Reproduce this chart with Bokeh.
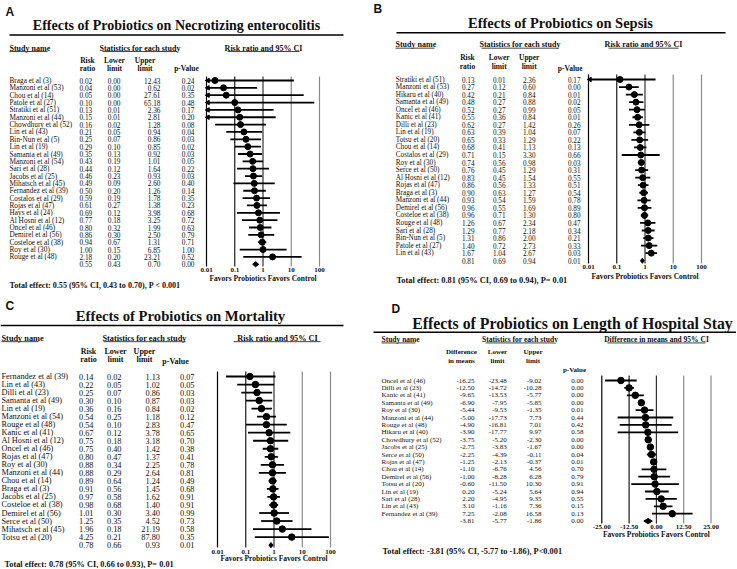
import numpy as np
from bokeh.plotting import figure
from bokeh.models import Range1d, LogScale, LinearScale
from bokeh.layouts import column, row
from bokeh.core.properties import value
from bokeh.embed import file_html
from bokeh.resources import INLINE

SERIF = "Liberation Serif"
SANS = "Liberation Sans"
INK = "#111111"

# ---------------- data ----------------
rr_ticks = [0.01, 0.1, 1, 10, 100]
rr_tick_labels = ["0.01", "0.1", "1", "10", "100"]
md_ticks = [-25, -12.5, 0, 12.5, 25]
md_tick_labels = ["-25.00", "-12.50", "0.00", "12.50", "25.00"]

nec_studies = ["Braga et al (3)", "Manzoni et al (53)", "Chou et al (14)", "Patole et al (27)",
               "Stratiki et al (51)", "Manzoni et al (44)", "Chowdhury et al (52)", "Lin et al (43)",
               "Bin-Nun et al (5)", "Lin et al (19)", "Samanta et al (49)", "Manzoni et al (54)",
               "Sari et al (28)", "Jacobs et al (25)", "Mihatsch et al (45)", "Fernandez et al (39)",
               "Costalos et al (29)", "Rojas et al (47)", "Hays et al (24)", "Al Hosni et al (12)",
               "Oncel et al (46)", "Demirel et al (56)", "Costeloe et al (38)", "Roy et al (30)",
               "Rouge et al (48)"]
nec_rr = [0.02, 0.04, 0.05, 0.10, 0.13, 0.15, 0.16, 0.21, 0.25, 0.29, 0.35, 0.43, 0.44, 0.46,
          0.49, 0.50, 0.59, 0.61, 0.69, 0.77, 0.80, 0.86, 0.94, 1.00, 2.18]
nec_lo = [0.00, 0.00, 0.00, 0.00, 0.01, 0.01, 0.02, 0.05, 0.07, 0.10, 0.13, 0.19, 0.12, 0.23,
          0.09, 0.20, 0.19, 0.27, 0.12, 0.18, 0.32, 0.30, 0.67, 0.15, 0.20]
nec_hi = [12.43, 0.62, 27.61, 65.18, 2.36, 2.81, 1.28, 0.94, 0.86, 0.85, 0.92, 1.01, 1.64, 0.93,
          2.60, 1.26, 1.78, 1.38, 3.98, 3.25, 1.99, 2.50, 1.31, 6.85, 23.21]
nec_p = [0.24, 0.02, 0.35, 0.48, 0.17, 0.20, 0.08, 0.04, 0.03, 0.02, 0.03, 0.05, 0.22, 0.03,
         0.40, 0.14, 0.35, 0.23, 0.68, 0.72, 0.63, 0.79, 0.71, 1.00, 0.52]
nec_summary = [0.55, 0.43, 0.70, 0.00]
nec_total = "Total effect: 0.55 (95% CI, 0.43 to 0.70), P < 0.001"

sep_studies = ["Stratiki et al (51)", "Manzoni et al (53)", "Hikaru et al (40)", "Samanta et al (49)",
               "Oncel et al (46)", "Kanic et al (41)", "Dilli et al (23)", "Lin et al (19)",
               "Totsu et al (20)", "Chou et al (14)", "Costalos et al (29)", "Roy et al (30)",
               "Serce et al (50)", "Al Hosni et al (12)", "Rojas et al (47)", "Braga et al (3)",
               "Manzoni et al (44)", "Demirel et al (56)", "Costeloe et al (38)", "Rouge et al (48)",
               "Sari et al (28)", "Bin-Nun et al (5)", "Patole et al (27)", "Lin et al (43)"]
sep_rr = [0.13, 0.27, 0.42, 0.48, 0.52, 0.55, 0.62, 0.63, 0.65, 0.68, 0.71, 0.74, 0.76, 0.83,
          0.86, 0.90, 0.93, 0.96, 0.96, 1.26, 1.29, 1.31, 1.40, 1.67]
sep_lo = [0.01, 0.12, 0.21, 0.27, 0.27, 0.36, 0.27, 0.39, 0.33, 0.41, 0.15, 0.56, 0.45, 0.45,
          0.56, 0.63, 0.54, 0.55, 0.71, 0.67, 0.77, 0.86, 0.72, 1.04]
sep_hi = [2.36, 0.60, 0.84, 0.88, 0.99, 0.84, 1.42, 1.04, 1.29, 1.13, 3.30, 0.98, 1.29, 1.54,
          1.33, 1.27, 1.59, 1.69, 1.30, 2.34, 2.18, 2.00, 2.73, 2.67]
sep_p = [0.17, 0.00, 0.01, 0.02, 0.05, 0.01, 0.26, 0.07, 0.22, 0.13, 0.66, 0.03, 0.31, 0.55,
         0.51, 0.54, 0.78, 0.89, 0.80, 0.47, 0.34, 0.21, 0.33, 0.03]
sep_summary = [0.81, 0.69, 0.94, 0.01]
sep_total = "Total effect: 0.81 (95% CI, 0.69 to 0.94), P= 0.01"

mor_studies = ["Fernandez et al (39)", "Lin et al (43)", "Dilli et al (23)", "Samanta et al (49)",
               "Lin et al (19)", "Manzoni et al (54)", "Rouge et al (48)", "Kanic et al (41)",
               "Al Hosni et al (12)", "Oncel et al (46)", "Rojas et al (47)", "Roy et al (30)",
               "Manzoni et al (44)", "Chou et al (14)", "Braga et al (3)", "Jacobs et al (25)",
               "Costeloe et al (38)", "Demirel et al (56)", "Serce et al (50)", "Mihatsch et al (45)",
               "Totsu et al (20)"]
mor_rr = [0.14, 0.22, 0.25, 0.30, 0.36, 0.54, 0.54, 0.67, 0.75, 0.75, 0.80, 0.88, 0.88, 0.89,
          0.91, 0.97, 0.98, 1.01, 1.25, 1.96, 4.25]
mor_lo = [0.02, 0.05, 0.07, 0.10, 0.16, 0.25, 0.10, 0.12, 0.18, 0.40, 0.47, 0.34, 0.29, 0.64,
          0.56, 0.58, 0.68, 0.30, 0.35, 0.18, 0.21]
mor_hi = [1.13, 1.02, 0.86, 0.87, 0.84, 1.18, 2.83, 3.78, 3.18, 1.42, 1.37, 2.25, 2.64, 1.24,
          1.45, 1.62, 1.40, 3.40, 4.52, 21.19, 87.80]
mor_p = [0.07, 0.05, 0.03, 0.03, 0.02, 0.12, 0.47, 0.65, 0.70, 0.38, 0.41, 0.78, 0.81, 0.49,
         0.68, 0.91, 0.91, 0.99, 0.73, 0.58, 0.35]
mor_summary = [0.78, 0.66, 0.93, 0.01]
mor_total = "Total effect: 0.78 (95% CI, 0.66 to 0.93), P= 0.01"

los_studies = ["Oncel et al (46)", "Dilli et al (23)", "Kanic et al (41)", "Samanta et al (49)",
               "Roy et al (30)", "Manzoni et al (44)", "Rouge et al (48)", "Hikaru et al (40)",
               "Chowdhury et al (52)", "Jacobs et al (25)", "Serce et al (50)", "Rojas et al (47)",
               "Chou et al (14)", "Demirel et al (56)", "Totsu et al (20)", "Lin et al (19)",
               "Sari et al (28)", "Lin et al (43)", "Fernandez et al (39)"]
los_diff = [-16.25, -12.50, -9.65, -6.90, -5.44, -5.00, -4.90, -3.90, -3.75, -2.75, -2.25, -1.25,
            -1.10, -1.00, -0.60, 0.20, 2.20, 3.10, 7.25]
los_lo = [-23.48, -14.72, -13.53, -7.95, -9.53, -17.73, -16.81, -17.77, -5.20, -3.83, -4.39, -2.13,
          -6.76, -8.28, -11.50, -5.24, -4.95, -1.16, -2.08]
los_hi = [-9.02, -10.28, -5.77, -5.85, -1.35, 7.73, 7.01, 9.97, -2.30, -1.67, -0.11, -0.37,
          4.56, 6.28, 10.30, 5.64, 9.35, 7.36, 16.58]
los_p = [0.00, 0.00, 0.00, 0.00, 0.01, 0.44, 0.42, 0.58, 0.00, 0.00, 0.04, 0.01, 0.70, 0.79,
         0.91, 0.94, 0.55, 0.15, 0.13]
los_summary = [-3.81, -5.77, -1.86, 0.00]
los_total = "Total effect: -3.81 (95% CI, -5.77 to -1.86), P<0.001"

FAVORS = "Favors Probiotics Favors Control"
LINE_COLORS = ["#000000", "#1a1a1a", "#333333", "#8a8a8a", "#8a8a8a"]


def panel(cfg, studies, est, lo, hi, pv, summ, total, ticks, tick_labels, log=True):
    L, R, T, B = cfg["box"]
    y1, dy = cfg["y1"], cfg["dy"]

    def yr(px):
        return (px - y1) / dy

    fa, fb = cfg["axis"]
    t0, t1 = ticks[0], ticks[-1]
    if log:
        d = (fb - fa) / (np.log10(t1) - np.log10(t0))
        fs = 10 ** (np.log10(t0) - (fa - L) / d)
        fe = 10 ** (np.log10(t0) + (R - fa) / d)
        scale = LogScale()
    else:
        d = (fb - fa) / (t1 - t0)
        fs = t0 - (fa - L) / d
        fe = t0 + (R - fa) / d
        scale = LinearScale()

    p = figure(width=int(R - L), height=int(B - T),
               x_range=Range1d(L, R), y_range=Range1d(yr(B), yr(T)),
               extra_x_ranges={"f": Range1d(fs, fe)}, extra_x_scales={"f": scale},
               x_axis_location=None, y_axis_location=None,
               toolbar_location=None, output_backend="svg", min_border=0)
    p.outline_line_color = None
    for g in p.grid:
        g.visible = False
    p.background_fill_color = "white"
    p.border_fill_color = "white"

    def txt(x, y, t, size, bold=False, align="left", font=SERIF, rng=None):
        kw = dict(x_range_name=rng) if rng else {}
        p.text(x=x, y=y, text=t, text_font=value(font), text_font_size=f"{size}px",
               text_font_style="bold" if bold else "normal", text_align=align,
               text_baseline="middle", text_color=INK, **kw)

    # panel letter and title
    lab, lx, ly = cfg["label"]
    txt([lx], [yr(ly)], [lab], 12, True, "left", SANS)
    tt, tx, ty, tsz = cfg["title"]
    txt([tx], [yr(ty)], [tt], tsz, True, "center")
    rx0, rx1, ry = cfg["rule"]
    p.segment(x0=[rx0], x1=[rx1], y0=[yr(ry)], y1=[yr(ry)], line_color="black", line_width=1.5)

    # headers
    for h, hx, hy, al, (u0, u1) in cfg["heads"]:
        txt([hx], [yr(hy)], [h], cfg["hsz"], True, al)
        uy = yr(hy + cfg["hsz"] * 0.42)
        p.segment(x0=[u0], x1=[u1], y0=[uy], y1=[uy], line_color=INK, line_width=0.8)
    for h, hx, hy in cfg["colheads"]:
        txt([hx], [yr(hy)], [h], cfg["csz"], True, "center")

    # table
    n = len(studies)
    rows = list(range(n))
    txt(cfg["name_x"], rows, studies, cfg["fsz"])
    for k, (xr, vals) in enumerate(zip(cfg["cols"], [est, lo, hi, pv])):
        strs = [f"{v:.2f}" for v in vals] + [f"{summ[k]:.2f}"]
        txt(xr, rows + [n], strs, cfg["fsz"], False, "right")

    # forest reference lines
    p.segment(x0=ticks, x1=ticks, y0=yr(cfg["ftop"]), y1=yr(cfg["fbot"]),
              line_color=LINE_COLORS, line_width=1.2, x_range_name="f")
    lo_a = np.array(lo, dtype=float)
    hi_a = np.array(hi, dtype=float)
    if log:
        lo_plot = np.maximum(lo_a, t0)
    else:
        lo_plot = lo_a
    p.segment(x0=lo_plot.tolist(), x1=hi_a.tolist(), y0=rows, y1=rows,
              line_color="black", line_width=1.8, x_range_name="f")
    if log:
        clipped = [i for i in rows if lo_a[i] <= t0]
        if clipped:
            p.scatter(x=t0 * 1.12, y=clipped, marker="triangle", angle=np.pi / 2, size=4.5,
                      color="black", x_range_name="f")
    p.scatter(x=est, y=rows, size=cfg["ms"], color="black", x_range_name="f")
    h = 2.6 / dy
    p.patch(x=[summ[1], summ[0], summ[2], summ[0]], y=[n, n - h, n, n + h],
            color="black", x_range_name="f")

    # tick labels and direction label
    txt(ticks, yr(cfg["ticky"]), tick_labels, 7, True, "center", SERIF, "f")
    txt([ticks[2]], [yr(cfg["favy"])], [FAVORS], 7.5, True, "center", SERIF, "f")
    ttx, tty, tts = cfg["total"]
    txt([ttx], [yr(tty)], [total], tts, True, "left")
    return p


cfgA = dict(box=(0, 368, 0, 290), y1=80, dy=7.35, axis=(206, 319),
            label=("A", 5, 11),
            title=("Effects of Probiotics on Necrotizing enterocolitis", 176, 25, 14),
            rule=(9, 343, 34.5),
            heads=[("Study name", 9, 47.7, "left", (9, 47)),
                   ("Statistics for each study", 139.5, 47.7, "center", (102, 177)),
                   ("Risk ratio and 95% CI", 263, 47.7, "center", (227, 299))],
            colheads=[("Risk", 87, 60), ("ratio", 87, 68.3), ("Lower", 114, 60), ("limit", 114, 68.3),
                      ("Upper", 144.5, 60), ("limit", 144.5, 68.3), ("p-Value", 186, 68.3)],
            name_x=9, cols=(91.7, 120, 160, 194), fsz=7.3, hsz=8, csz=7.5, ms=6,
            ftop=76, fbot=266, ticky=269.5, favy=278, total=(9, 284.5, 8.1))

cfgB = dict(box=(368, 736, 0, 290), y1=79, dy=7.55, axis=(588, 701),
            label=("B", 373, 8),
            title=("Effects of Probiotics on Sepsis", 560, 22, 14.5),
            rule=(396, 725, 32.3),
            heads=[("Study name", 395, 44.3, "left", (395, 434)),
                   ("Statistics for each study", 519.5, 44.3, "center", (481, 558)),
                   ("Risk ratio and 95% CI", 643, 44.3, "center", (608, 678))],
            colheads=[("Risk", 467, 57.3), ("ratio", 467, 66), ("Lower", 498.7, 57.3), ("limit", 498.7, 66),
                      ("Upper", 528.7, 57.3), ("limit", 528.7, 66), ("p-Value", 569.7, 68.3)],
            name_x=395.3, cols=(474, 505, 535, 580), fsz=7.2, hsz=8, csz=7.5, ms=6,
            ftop=74, fbot=263, ticky=266.7, favy=276, total=(396, 280, 8.4))

cfgC = dict(box=(0, 368, 290, 568), y1=376, dy=8.03, axis=(217, 330),
            label=("C", 5, 305),
            title=("Effects of Probiotics on Mortality", 180, 315, 14.7),
            rule=(0, 343, 325),
            heads=[("Study name", 1, 337.7, "left", (1, 38)),
                   ("Statistics for each study", 144, 337.7, "center", (103, 185)),
                   ("Risk ratio and 95% CI", 277, 337.7, "center", (233, 320))],
            colheads=[("Risk", 88, 351), ("ratio", 88, 359), ("Lower", 115, 351), ("limit", 115, 359),
                      ("Upper", 144, 351), ("limit", 144, 359), ("p-Value", 175, 361)],
            name_x=1, cols=(93, 121, 159.5, 194), fsz=8.3, hsz=8.3, csz=8, ms=6.5,
            ftop=371, fbot=547, ticky=551.7, favy=558.3, total=(4, 564.3, 8.3))

cfgD = dict(box=(368, 736, 290, 568), y1=380, dy=7.4, axis=(601.3, 710.5),
            label=("D", 391, 308),
            title=("Effects of Probiotics on Length of Hospital Stay", 572, 323, 15.8),
            rule=(373, 736, 331.7),
            heads=[("Study name", 381, 339.3, "left", (381, 415)),
                   ("Statistics for each study", 519.5, 339.3, "center", (485, 554)),
                   ("Difference in means and 95% CI", 656, 339.3, "center", (607, 705))],
            colheads=[("Difference", 461, 351.7), ("in means", 461, 360), ("Lower", 497, 351.7),
                      ("limit", 497, 360), ("Upper", 532.5, 351.7), ("limit", 532.5, 360),
                      ("p-Value", 574, 369)],
            name_x=381, cols=(474, 506.3, 541, 583), fsz=7, hsz=7.5, csz=7, ms=6.5,
            ftop=375, fbot=523, ticky=526, favy=534, total=(382, 550.7, 8.3))

pA = panel(cfgA, nec_studies, nec_rr, nec_lo, nec_hi, nec_p, nec_summary, nec_total,
           rr_ticks, rr_tick_labels, log=True)
pB = panel(cfgB, sep_studies, sep_rr, sep_lo, sep_hi, sep_p, sep_summary, sep_total,
           rr_ticks, rr_tick_labels, log=True)
pC = panel(cfgC, mor_studies, mor_rr, mor_lo, mor_hi, mor_p, mor_summary, mor_total,
           rr_ticks, rr_tick_labels, log=True)
pD = panel(cfgD, los_studies, los_diff, los_lo, los_hi, los_p, los_summary, los_total,
           md_ticks, md_tick_labels, log=False)

layout = column(row(pA, pB, spacing=0), row(pC, pD, spacing=0), spacing=0)
open("out.html", "w").write(file_html(layout, INLINE))
